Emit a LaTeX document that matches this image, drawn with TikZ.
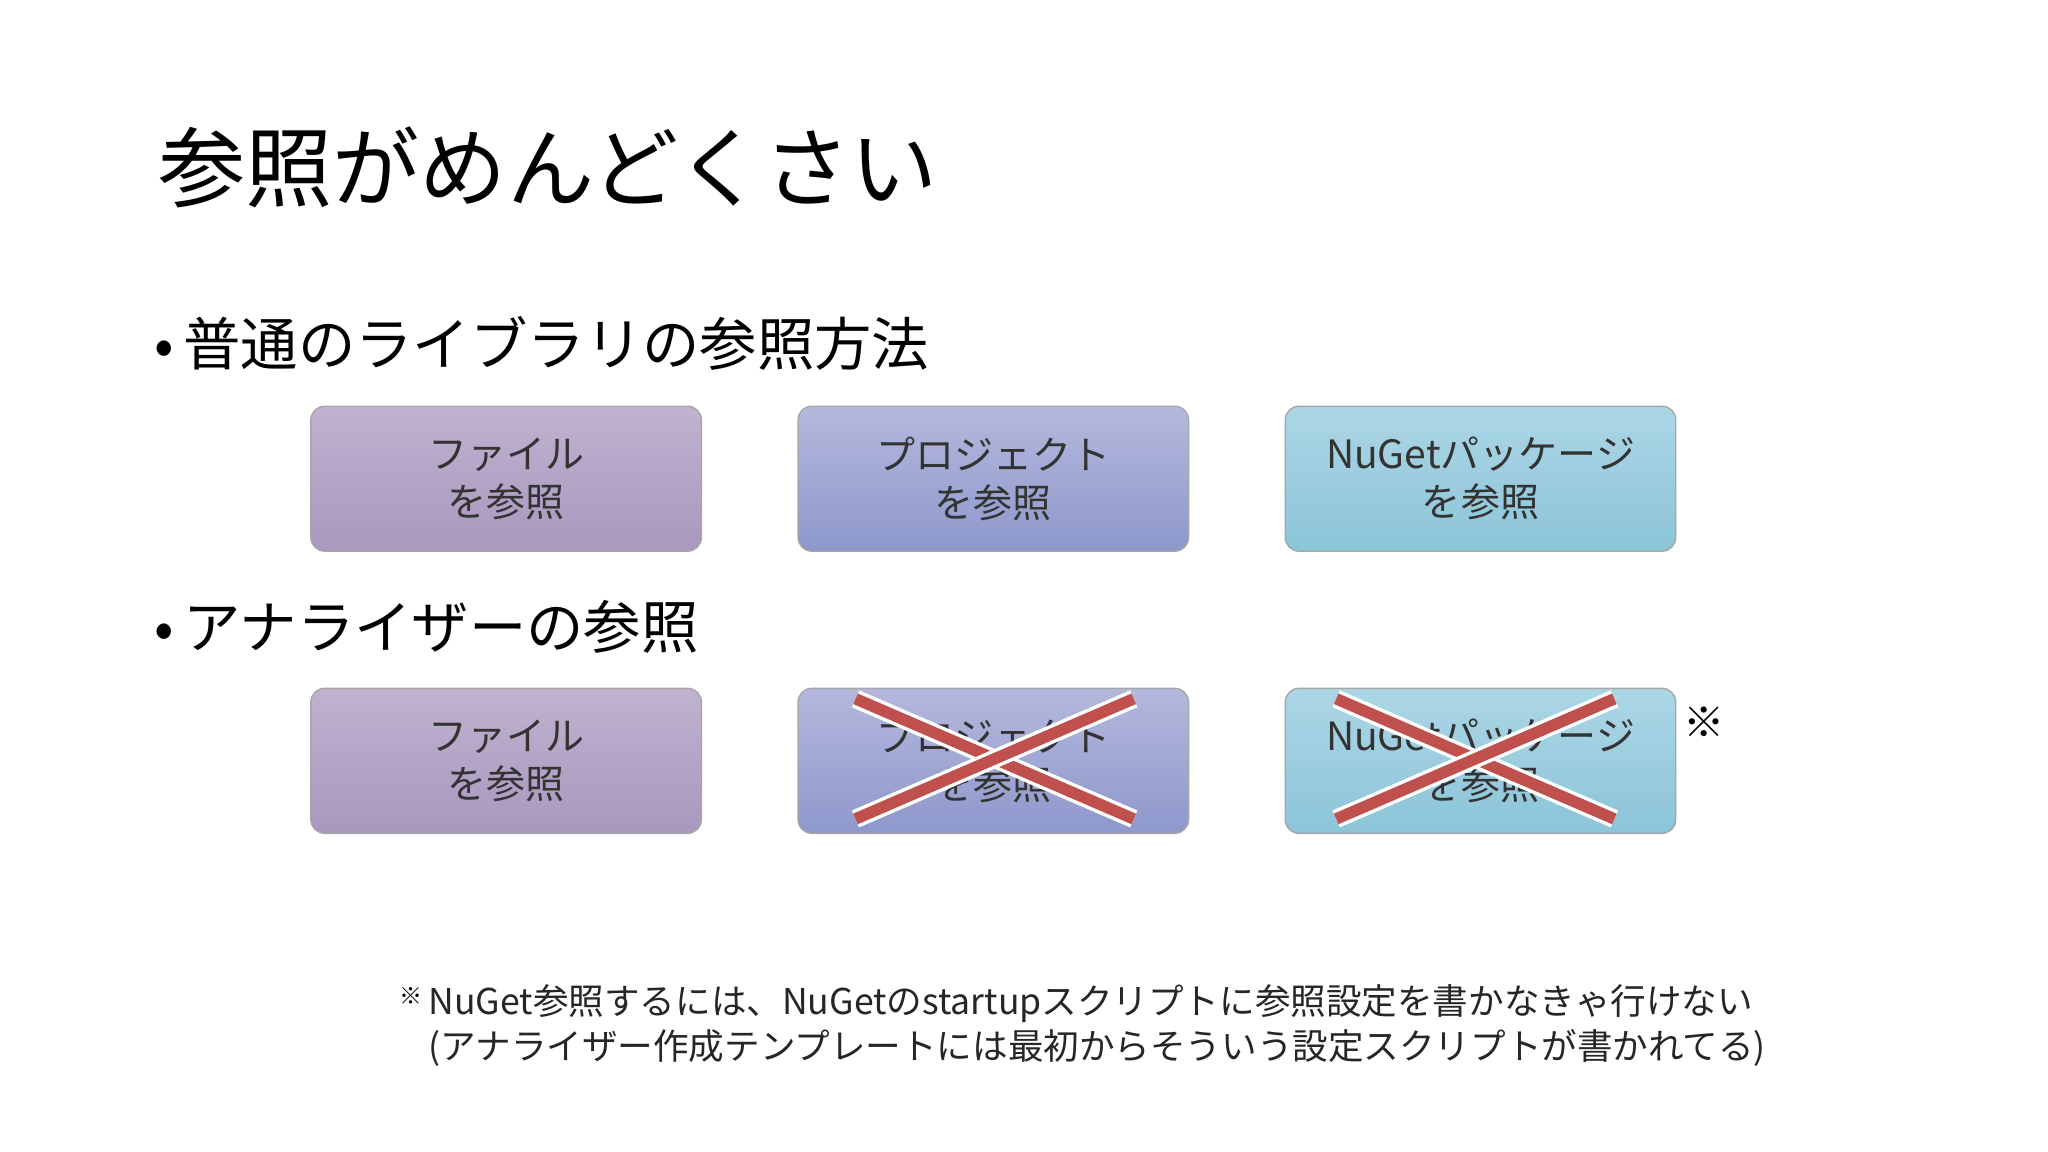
\documentclass[tikz,border=0pt]{standalone}
\usepackage{fontspec}
\setmainfont{Noto Sans CJK JP}
\begin{document}
\begin{tikzpicture}[x=0.02cm,y=-0.02cm,
  box/.style={draw=black!35,rounded corners=6pt,minimum width=299*0.02cm,minimum height=111*0.02cm,align=center,font=\fontsize{17}{21}\selectfont,text=black!80,line width=0.6pt},
  bA/.style={box,top color=purple!20!blue!8!white!80!gray,bottom color={rgb,255:red,168;green,152;blue,190}},
  bB/.style={box,top color={rgb,255:red,180;green,184;blue,220},bottom color={rgb,255:red,142;green,152;blue,204}},
  bC/.style={box,top color={rgb,255:red,172;green,214;blue,230},bottom color={rgb,255:red,140;green,196;blue,216}},
  xline/.style={line width=5pt,draw={rgb,255:red,192;green,80;blue,77},preaction={draw=white,line width=8pt}}]
\useasboundingbox[fill=white] (0,0) rectangle (1568,882);
\node[anchor=west,font=\fontsize{38}{44}\selectfont] (title) at (115,128) {参照がめんどくさい};
\node[anchor=west,font=\fontsize{25}{30}\selectfont] (b1) at (112,263) {•\,普通のライブラリの参照方法};
\node[anchor=west,font=\fontsize{25}{30}\selectfont] (b2) at (112,480) {•\,アナライザーの参照};
\tikzset{bA/.append style={top color={rgb,255:red,192;green,178;blue,208}}}
\node[bA] (a1) at (387.5,366.5) {ファイル\\を参照};
\node[bB] (a2) at (760.5,366.5) {プロジェクト\\を参照};
\node[bC] (a3) at (1133.5,366.5) {NuGetパッケージ\\を参照};
\node[bA] (c1) at (387.5,582.5) {ファイル\\を参照};
\node[bB] (c2) at (760.5,582.5) {プロジェクト\\を参照};
\node[bC] (c3) at (1133.5,582.5) {NuGetパッケージ\\を参照};
\coordinate (p1) at (655,535); \coordinate (p2) at (868,627);
\coordinate (p3) at (655,627); \coordinate (p4) at (868,535);
\draw[xline] (p1) -- (p2); \draw[xline] (p3) -- (p4);
\coordinate (q1) at (1023,535); \coordinate (q2) at (1236,627);
\coordinate (q3) at (1023,627); \coordinate (q4) at (1236,535);
\draw[xline] (q1) -- (q2); \draw[xline] (q3) -- (q4);
\node[font=\fontsize{18}{20}\selectfont] (mark) at (1305,553) {※};
\node[anchor=north west,font=\fontsize{10}{12}\selectfont] (fm) at (300,750) {※};
\node[anchor=west,align=left,font=\fontsize{15.5}{19.5}\selectfont,text=black!85] (foot) at (322,785) {NuGet参照するには、NuGetのstartupスクリプトに参照設定を書かなきゃ行けない\\(アナライザー作成テンプレートには最初からそういう設定スクリプトが書かれてる)};
\end{tikzpicture}
\end{document}
